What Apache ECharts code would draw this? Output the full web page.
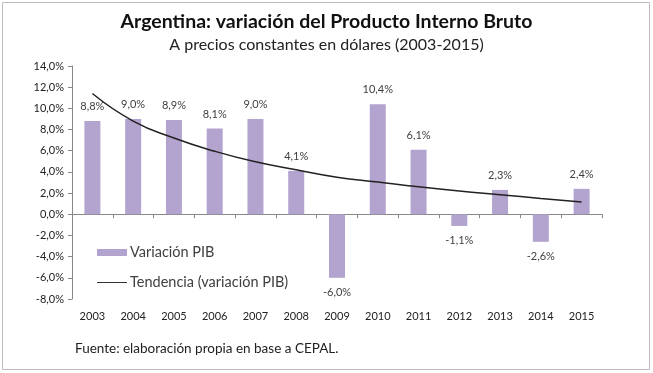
<!DOCTYPE html>
<html>
<head>
<meta charset="utf-8">
<script src="https://cdn.jsdelivr.net/npm/echarts@6/dist/echarts.min.js"></script>
<style>html,body{margin:0;padding:0;background:#fff}#c{width:653px;height:373px}</style>
</head>
<body>
<div id="c"></div>
<script>
var categories = ['2003','2004','2005','2006','2007','2008','2009','2010','2011','2012','2013','2014','2015'];
var pibValues = [8.8, 9.0, 8.9, 8.1, 9.0, 4.1, -6.0, 10.4, 6.1, -1.1, 2.3, -2.6, 2.4];
var trendValues = [11.4, 8.8, 7.2, 5.95, 4.95, 4.2, 3.5, 3.05, 2.6, 2.2, 1.85, 1.5, 1.15];
var yTicks = [-8, -6, -4, -2, 0, 2, 4, 6, 8, 10, 12, 14];

var FONT = 'Lato';
function pct(v){ return v.toFixed(1).replace('.', ',') + '%'; }

var barData = pibValues.map(function(v){
  return v < 0 ? { value: v, label: { position: 'bottom' } } : v;
});

var chart = echarts.init(document.getElementById('c'));
chart.setOption({
  animation: false,
  textStyle: { fontFamily: FONT },
  title: {
    text: 'Argentina: variación del Producto Interno Bruto',
    subtext: 'A precios constantes en dólares (2003-2015)',
    left: 'center', top: 7, itemGap: 5,
    textStyle: { fontFamily: FONT, fontSize: 19.5, fontWeight: 'bold', color: '#111' },
    subtextStyle: { fontFamily: FONT, fontSize: 16, color: '#222' }
  },
  graphic: [
    { type: 'rect', shape: { x: 2.5, y: 2.5, width: 647, height: 367 }, style: { fill: null, stroke: '#bbb', lineWidth: 1 }, z: 0 },
    { type: 'text', left: 75, top: 342, style: { text: 'Fuente: elaboración propia en base a CEPAL.', fontFamily: FONT, fontSize: 13.5, fill: '#222' } }
  ],
  legend: {
    orient: 'vertical', left: 92, top: 240, itemGap: 15, itemWidth: 30, itemHeight: 7,
    textStyle: { fontFamily: FONT, fontSize: 14.5, color: '#404040', padding: [0, 0, 0, -2] },
    data: [
      { name: 'Variación PIB', icon: 'rect' },
      { name: 'Tendencia (variación PIB)', icon: 'path://M0,0L30,0L30,1L0,1Z', itemStyle: { color: '#333' } }
    ]
  },
  grid: { left: 72, right: 51, top: 66, bottom: 74, containLabel: false },
  xAxis: [
    {
      type: 'category', data: categories, position: 'bottom',
      axisLine: { show: false }, axisTick: { show: false },
      axisLabel: { fontFamily: FONT, fontSize: 11, color: '#222', margin: 12 }
    },
    {
      type: 'category', data: categories, position: 'bottom',
      axisLine: { show: true, onZero: true, onZeroAxisIndex: 0, lineStyle: { color: '#888', width: 1 } },
      axisTick: { show: true, length: 4, lineStyle: { color: '#888' } },
      axisLabel: { show: false }
    }
  ],
  yAxis: {
    type: 'value', min: -8, max: 14, interval: 2,
    axisLine: { show: true, lineStyle: { color: '#888' } },
    axisTick: { show: true, length: 4, lineStyle: { color: '#888' } },
    splitLine: { show: false },
    axisLabel: { fontFamily: FONT, fontSize: 11, color: '#222', margin: 8, formatter: function(v){ return pct(v); } }
  },
  series: [
    {
      name: 'Variación PIB', type: 'bar', data: barData, xAxisIndex: 0, barWidth: 16,
      itemStyle: { color: '#b3a3cf' },
      label: {
        show: true, fontFamily: FONT, fontSize: 11, color: '#404040', distance: 9,
        position: 'top',
        formatter: function(p){ return pct(p.value); }
      }
    },
    {
      name: 'Tendencia (variación PIB)', type: 'line', data: trendValues, xAxisIndex: 0,
      smooth: true, showSymbol: false, symbol: 'none',
      lineStyle: { color: '#222', width: 1.5 }, itemStyle: { color: '#222' }, z: 5
    }
  ]
});
</script>
</body>
</html>
